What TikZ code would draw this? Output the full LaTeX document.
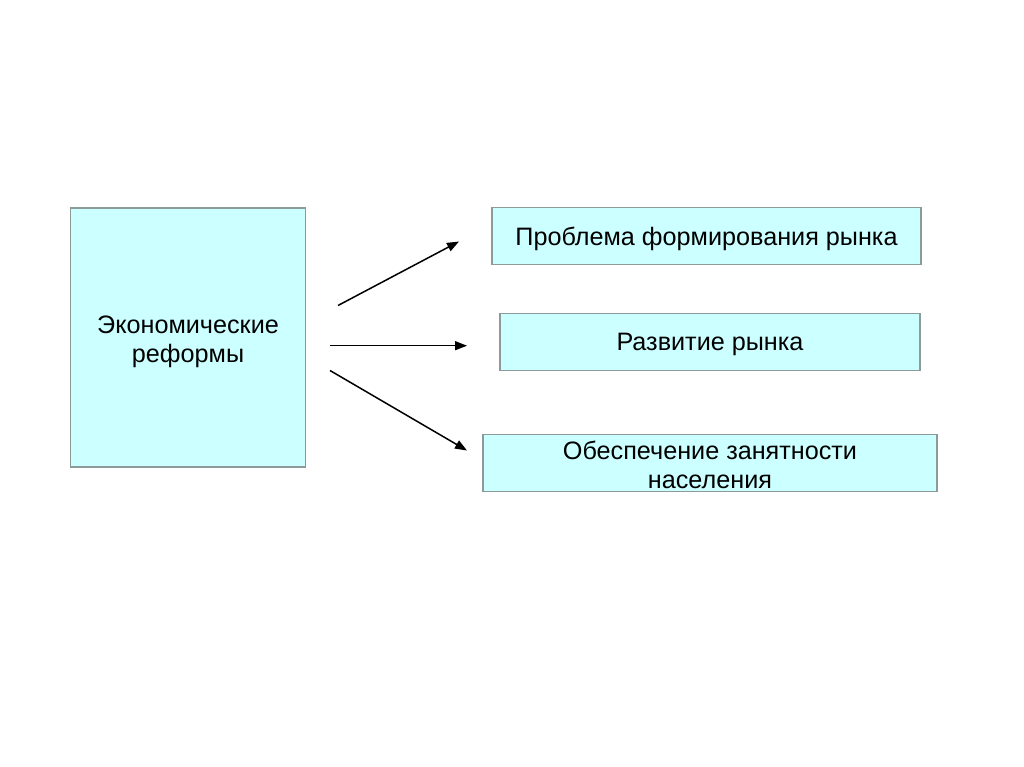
\documentclass[tikz,border=0pt]{standalone}
\usepackage{fontspec}
\setmainfont{Liberation Sans}
\usetikzlibrary{arrows.meta}
\definecolor{boxfill}{HTML}{CCFFFF}
\definecolor{boxline}{HTML}{8C9A9A}
\tikzset{
  box/.style={draw=boxline, line width=1.2pt, fill=boxfill, inner sep=0pt},
  txt/.style={inner sep=0pt, align=center, font=\fontsize{25.2}{28.5}\selectfont},
  arr/.style={line width=1.5pt, -{Triangle[length=12pt,width=9pt]}}
}
\begin{document}
\begin{tikzpicture}[x=1pt,y=-1pt]
\useasboundingbox (0,0) rectangle (1024,767);
\node[box, minimum width=235pt, minimum height=259pt] (econ) at (188,337.5) {};
\node[txt] (econt) at (188,342) {Экономические\\реформы};
\node[box, minimum width=429pt, minimum height=57pt] (b1) at (706.5,236) {};
\node[txt] (b1t) at (706.5,238.5) {Проблема формирования рынка};
\node[box, minimum width=420pt, minimum height=57pt] (b2) at (710,342) {};
\node[txt] (b2t) at (710,344.5) {Развитие рынка};
\node[box, minimum width=454pt, minimum height=57pt] (b3) at (710,463) {};
\node[txt] (b3t) at (710,465) {Обеспечение занятности\\населения};
\coordinate (s1) at (338,305.5);
\coordinate (e1) at (459,241.5);
\coordinate (s2) at (330,345.7);
\coordinate (e2) at (467,345.7);
\coordinate (s3) at (330,370.5);
\coordinate (e3) at (467,450.5);
\draw[arr] (s1) -- (e1);
\draw[arr] (s2) -- (e2);
\draw[arr] (s3) -- (e3);
\end{tikzpicture}
\end{document}
